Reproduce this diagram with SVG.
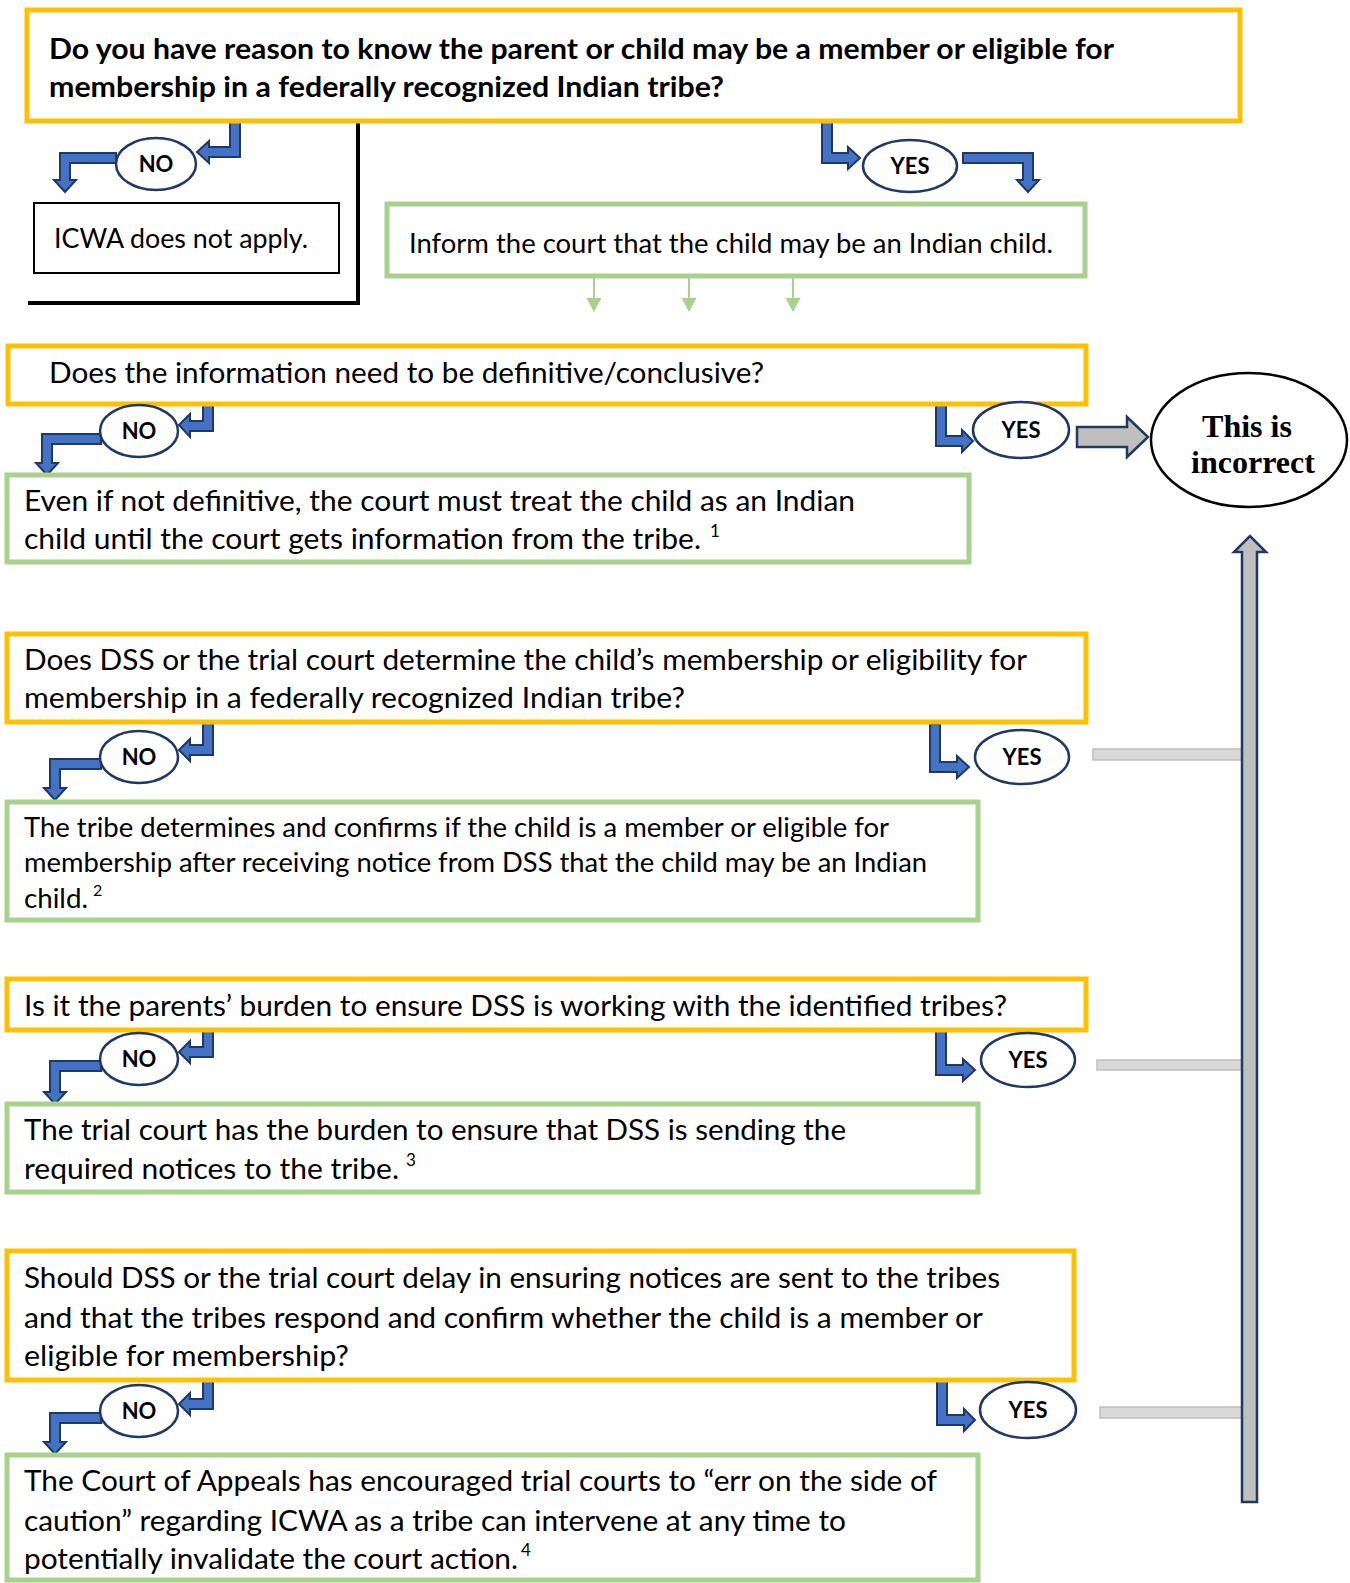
<svg xmlns="http://www.w3.org/2000/svg" width="1350" height="1583" viewBox="0 0 1350 1583">
<style>
.q{fill:#fff;stroke:#FFC000;stroke-width:5}
.g{fill:#fff;stroke:#A9D18E;stroke-width:5}
.t{font-family:Lato,"Open Sans","Liberation Sans",sans-serif;font-size:28px;fill:#000}
.tb{font-family:Lato,"Open Sans","Liberation Sans",sans-serif;font-size:28px;font-weight:bold;fill:#000}
.s{font-family:Lato,"Open Sans","Liberation Sans",sans-serif;font-size:17px;fill:#000}
.ov{fill:#fff;stroke:#1F3864;stroke-width:2.5}
.lb{font-family:Lato,"Open Sans","Liberation Sans",sans-serif;font-size:22px;font-weight:bold;fill:#000;text-anchor:middle}
.ba{fill:#4472C4;stroke:#1F3864;stroke-width:2;stroke-linejoin:miter}
.ga{fill:#BFBFBF;stroke:#1F3864;stroke-width:2.5}
.bar{fill:#D9D9D9;stroke:#BFBFBF;stroke-width:1.5}
.gl{stroke:#A9D18E;stroke-width:2;fill:none}
.gh{fill:#A9D18E}
</style>

<g id="connectors">
  <!-- black L frame -->
  <path d="M358,123 L358,303 L28,303" fill="none" stroke="#000" stroke-width="4"/>
  <!-- row1 NO arrows -->
  <path class="ba" d="M230,118 L240,118 L240,157 L209,157 L209,163 L197,152 L209,141 L209,147 L230,147 Z"/>
  <path class="ba" d="M116,153 L60,153 L60,180 L54,180 L65,192 L76,180 L70,180 L70,163 L116,163 Z"/>
  <!-- row1 YES arrows -->
  <path class="ba" d="M822,118 L832,118 L832,153 L848,153 L848,147 L860,158 L848,169 L848,163 L822,163 Z"/>
  <path class="ba" d="M963,153 L1033,153 L1033,180 L1039,180 L1028,192 L1017,180 L1023,180 L1023,163 L963,163 Z"/>
  <!-- green small arrows -->
  <line class="gl" x1="594" y1="278" x2="594" y2="299"/>
  <polygon class="gh" points="586.5,298 601.5,298 594,312"/>
  <line class="gl" x1="689" y1="278" x2="689" y2="299"/>
  <polygon class="gh" points="681.5,298 696.5,298 689,312"/>
  <line class="gl" x1="793" y1="278" x2="793" y2="299"/>
  <polygon class="gh" points="785.5,298 800.5,298 793,312"/>
  <!-- row2 -->
  <path class="ba" d="M203,401 L213,401 L213,431 L190,431 L190,437 L179,425 L190,414 L190,421 L203,421 Z"/>
  <path class="ba" d="M101,434 L42,434 L42,463 L36,463 L47,475 L58,463 L52,463 L52,444 L101,444 Z"/>
  <path class="ba" d="M936,402 L946,402 L946,436 L962,436 L962,430 L973,441 L962,452 L962,446 L936,446 Z"/>
  <path class="ga" d="M1077,427 L1127,427 L1127,417 L1148,437 L1127,457 L1127,447 L1077,447 Z"/>
  <!-- row3 -->
  <path class="ba" d="M203,723 L213,723 L213,755 L190,755 L190,761 L179,750 L190,739 L190,745 L203,745 Z"/>
  <path class="ba" d="M101,759 L50,759 L50,788 L44,788 L55,800 L66,788 L60,788 L60,769 L101,769 Z"/>
  <path class="ba" d="M930,724 L940,724 L940,762 L957,762 L957,756 L969,767 L957,778 L957,772 L930,772 Z"/>
  <rect class="bar" x="1093" y="749" width="150" height="11"/>
  <!-- row4 -->
  <path class="ba" d="M203,1031 L213,1031 L213,1057 L190,1057 L190,1063 L179,1052 L190,1041 L190,1047 L203,1047 Z"/>
  <path class="ba" d="M101,1061 L50,1061 L50,1092 L44,1092 L55,1104 L66,1092 L60,1092 L60,1071 L101,1071 Z"/>
  <path class="ba" d="M936,1031 L946,1031 L946,1065 L963,1065 L963,1059 L975,1070 L963,1081 L963,1075 L936,1075 Z"/>
  <rect class="bar" x="1097" y="1060" width="146" height="10"/>
  <!-- row5 -->
  <path class="ba" d="M203,1381 L213,1381 L213,1409 L190,1409 L190,1415 L179,1404 L190,1393 L190,1399 L203,1399 Z"/>
  <path class="ba" d="M101,1413 L50,1413 L50,1442 L44,1442 L55,1454 L66,1442 L60,1442 L60,1423 L101,1423 Z"/>
  <path class="ba" d="M937,1381 L947,1381 L947,1415 L964,1415 L964,1409 L975,1420 L964,1431 L964,1425 L937,1425 Z"/>
  <rect class="bar" x="1100" y="1407" width="143" height="11"/>
  <!-- vertical return arrow -->
  <path class="ga" d="M1242,1502 L1242,552 L1234,552 L1250,536 L1266,552 L1257,552 L1257,1502 Z"/>
</g>

<g id="q1">
  <rect class="q" x="27" y="10" width="1213" height="111"/>
  <text class="tb" x="49" y="59" textLength="1065" lengthAdjust="spacingAndGlyphs">Do you have reason to know the parent or child may be a member or eligible for</text>
  <text class="tb" x="49" y="97" textLength="675" lengthAdjust="spacingAndGlyphs">membership in a federally recognized Indian tribe?</text>
</g>

<g id="no1">
  <ellipse class="ov" cx="156" cy="164" rx="40" ry="26"/>
  <text class="lb" x="156" y="172">NO</text>
</g>
<g id="yes1">
  <ellipse class="ov" cx="910" cy="166" rx="47" ry="26"/>
  <text class="lb" x="910" y="174">YES</text>
</g>

<g id="icwa">
  <rect x="34" y="203" width="305" height="70" fill="#fff" stroke="#000" stroke-width="2"/>
  <text class="t" x="54" y="248" textLength="254" lengthAdjust="spacingAndGlyphs" style="font-size:27px">ICWA does not apply.</text>
</g>

<g id="inform">
  <rect class="g" x="387" y="204" width="698" height="72"/>
  <text class="t" x="409" y="253" textLength="644" lengthAdjust="spacingAndGlyphs" style="font-size:27px">Inform the court that the child may be an Indian child.</text>
</g>

<g id="q2">
  <rect class="q" x="8" y="346" width="1078" height="58"/>
  <text class="t" x="49" y="383" textLength="715" lengthAdjust="spacingAndGlyphs">Does the information need to be definitive/conclusive?</text>
</g>
<g id="no2">
  <ellipse class="ov" cx="139" cy="431" rx="39" ry="26"/>
  <text class="lb" x="139" y="439">NO</text>
</g>
<g id="yes2">
  <ellipse class="ov" cx="1021" cy="430" rx="48" ry="28"/>
  <text class="lb" x="1021" y="438">YES</text>
</g>
<g id="incorrect">
  <ellipse cx="1249" cy="440" rx="98" ry="67" fill="#fff" stroke="#000" stroke-width="2.5"/>
  <text x="1247" y="437" text-anchor="middle" style="font-family:'Liberation Serif','Times New Roman',serif;font-size:32px;font-weight:bold">This is</text>
  <text x="1253" y="473" text-anchor="middle" style="font-family:'Liberation Serif','Times New Roman',serif;font-size:32px;font-weight:bold">incorrect</text>
</g>
<g id="a2">
  <rect class="g" x="7" y="475" width="962" height="87"/>
  <text class="t" x="24" y="511" textLength="831" lengthAdjust="spacingAndGlyphs">Even if not definitive, the court must treat the child as an Indian</text>
  <text class="t" x="24" y="549" textLength="677" lengthAdjust="spacingAndGlyphs">child until the court gets information from the tribe.</text>
  <text class="s" x="710" y="537">1</text>
</g>

<g id="q3">
  <rect class="q" x="7" y="634" width="1079" height="88"/>
  <text class="t" x="24" y="670" textLength="1003" lengthAdjust="spacingAndGlyphs">Does DSS or the trial court determine the child’s membership or eligibility for</text>
  <text class="t" x="24" y="708" textLength="661" lengthAdjust="spacingAndGlyphs">membership in a federally recognized Indian tribe?</text>
</g>
<g id="no3">
  <ellipse class="ov" cx="139" cy="757" rx="39" ry="26"/>
  <text class="lb" x="139" y="765">NO</text>
</g>
<g id="yes3">
  <ellipse class="ov" cx="1022" cy="757" rx="47" ry="27"/>
  <text class="lb" x="1022" y="765">YES</text>
</g>
<g id="a3">
  <rect class="g" x="7" y="802" width="971" height="118"/>
  <text class="t" x="24" y="837" textLength="865" lengthAdjust="spacingAndGlyphs" style="font-size:26px">The tribe determines and confirms if the child is a member or eligible for</text>
  <text class="t" x="24" y="872" textLength="903" lengthAdjust="spacingAndGlyphs" style="font-size:26px">membership after receiving notice from DSS that the child may be an Indian</text>
  <text class="t" x="24" y="908" textLength="64" lengthAdjust="spacingAndGlyphs" style="font-size:26px">child.</text>
  <text class="s" x="93" y="896" style="font-size:16px">2</text>
</g>

<g id="q4">
  <rect class="q" x="7" y="979" width="1079" height="51"/>
  <text class="t" x="24" y="1016" textLength="983" lengthAdjust="spacingAndGlyphs">Is it the parents’ burden to ensure DSS is working with the identified tribes?</text>
</g>
<g id="no4">
  <ellipse class="ov" cx="139" cy="1059" rx="39" ry="26"/>
  <text class="lb" x="139" y="1067">NO</text>
</g>
<g id="yes4">
  <ellipse class="ov" cx="1028" cy="1060" rx="47" ry="27"/>
  <text class="lb" x="1028" y="1068">YES</text>
</g>
<g id="a4">
  <rect class="g" x="7" y="1104" width="971" height="88"/>
  <text class="t" x="24" y="1140" textLength="822" lengthAdjust="spacingAndGlyphs">The trial court has the burden to ensure that DSS is sending the</text>
  <text class="t" x="24" y="1179" textLength="375" lengthAdjust="spacingAndGlyphs">required notices to the tribe.</text>
  <text class="s" x="406" y="1166">3</text>
</g>

<g id="q5">
  <rect class="q" x="7" y="1251" width="1067" height="129"/>
  <text class="t" x="24" y="1288" textLength="976" lengthAdjust="spacingAndGlyphs">Should DSS or the trial court delay in ensuring notices are sent to the tribes</text>
  <text class="t" x="24" y="1328" textLength="959" lengthAdjust="spacingAndGlyphs">and that the tribes respond and confirm whether the child is a member or</text>
  <text class="t" x="24" y="1366" textLength="325" lengthAdjust="spacingAndGlyphs">eligible for membership?</text>
</g>
<g id="no5">
  <ellipse class="ov" cx="139" cy="1411" rx="39" ry="26"/>
  <text class="lb" x="139" y="1419">NO</text>
</g>
<g id="yes5">
  <ellipse class="ov" cx="1028" cy="1410" rx="48" ry="28"/>
  <text class="lb" x="1028" y="1418">YES</text>
</g>
<g id="a5">
  <rect class="g" x="7" y="1455" width="971" height="125"/>
  <text class="t" x="24" y="1491" textLength="913" lengthAdjust="spacingAndGlyphs">The Court of Appeals has encouraged trial courts to “err on the side of</text>
  <text class="t" x="24" y="1531" textLength="822" lengthAdjust="spacingAndGlyphs">caution” regarding ICWA as a tribe can intervene at any time to</text>
  <text class="t" x="24" y="1569" textLength="494" lengthAdjust="spacingAndGlyphs">potentially invalidate the court action.</text>
  <text class="s" x="521" y="1556">4</text>
</g>
</svg>
